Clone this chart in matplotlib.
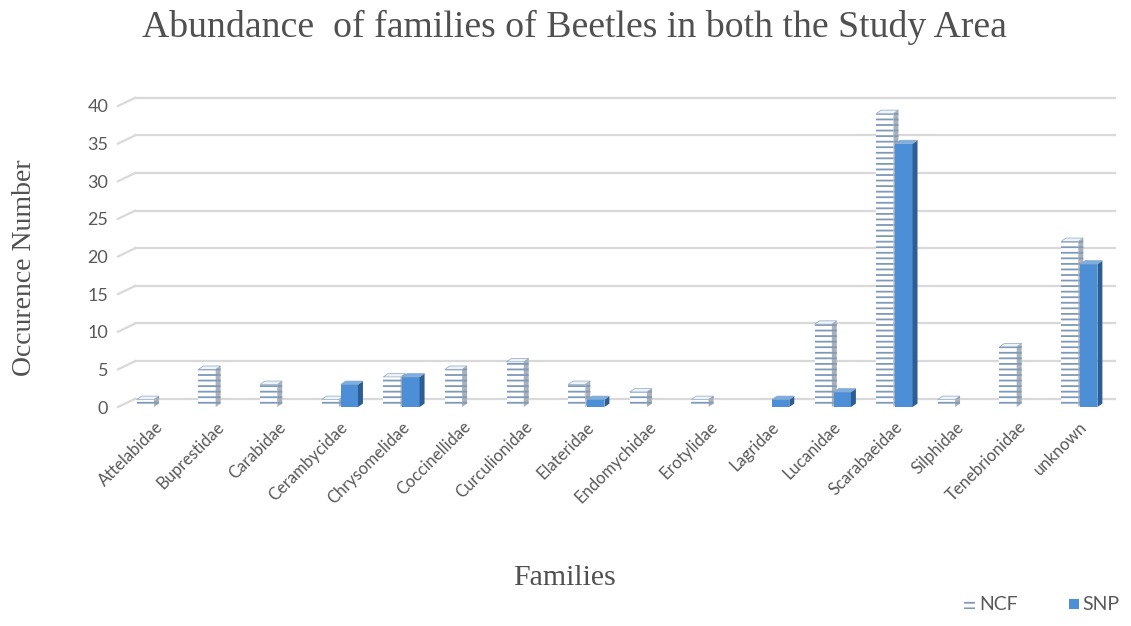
import numpy as np
import matplotlib
matplotlib.use('Agg')
import matplotlib.pyplot as plt
from matplotlib.patches import Polygon, Rectangle

# occurrence counts per beetle family at the two sites
families = ['Attelabidae', 'Buprestidae', 'Carabidae', 'Cerambycidae',
            'Chrysomelidae', 'Coccinellidae', 'Curculionidae', 'Elateridae',
            'Endomychidae', 'Erotylidae', 'Lagridae', 'Lucanidae',
            'Scarabaeidae', 'Silphidae', 'Tenebrionidae', 'unknown']
ncf = [1, 5, 3, 1, 4, 5, 6, 3, 2, 1, 0, 11, 39, 1, 8, 22]
snp = [0, 0, 0, 3, 4, 0, 0, 1, 0, 0, 1, 2, 35, 0, 0, 19]
yticks = [0, 5, 10, 15, 20, 25, 30, 35, 40]

W, H = 1131, 626
fig = plt.figure(figsize=(W / 100, H / 100), dpi=100)

# plot area in pixels: front floor at y=407, 7.525 px per unit
ppu = 7.525
y0, y1 = -1.0, 42.0
left_px, right_px = 118, 1115
bot_px = 407 + (-y0) * ppu
top_px = 407 - y1 * ppu
ax = fig.add_axes([left_px / W, 1 - bot_px / H,
                   (right_px - left_px) / W, (bot_px - top_px) / H])
ax.set_ylim(y0, y1)
ax.set_xlim(-0.60, 15.58)
for s in ax.spines.values():
    s.set_visible(False)

# back wall gridlines with a slanted floor stub on the left
back_dy = 1.1
for v in yticks:
    ax.plot([-0.32, 15.58], [v + back_dy, v + back_dy], color='#d9d9d9',
            lw=1.6, zorder=0, clip_on=False)
    ax.plot([-0.60, -0.32], [v, v + back_dy], color='#d9d9d9',
            lw=1.6, zorder=0, clip_on=False)

x = np.arange(len(families))
w = 0.28
dx, dy = 0.08, 0.45

ncf_face, ncf_side, ncf_top, ncf_hatch = 'white', '#a9b1ba', '#eef3f8', '#7f99b8'
snp_face, snp_side, snp_top = '#4d8fd6', '#2c5d94', '#7aafe6'


def bar3d(xl, h, front, side, top, hatch, hcolor, z):
    if h <= 0:
        return
    ax.bar(xl, h, w, align='edge', facecolor=front, edgecolor=hcolor,
           hatch=hatch, linewidth=0, zorder=z)
    ax.add_patch(Polygon([(xl + w, 0), (xl + w + dx, dy), (xl + w + dx, h + dy),
                          (xl + w, h)], closed=True, facecolor=side,
                         edgecolor=hcolor, hatch=hatch, linewidth=0, zorder=z))
    ax.add_patch(Polygon([(xl, h), (xl + dx, h + dy), (xl + w + dx, h + dy),
                          (xl + w, h)], closed=True, facecolor=top,
                         edgecolor='#8ea6c2', linewidth=0.5, zorder=z))


plt.rcParams['hatch.linewidth'] = 1.3
for i in range(len(families)):
    bar3d(x[i] - 0.155 - w / 2, ncf[i], ncf_face, ncf_side, ncf_top,
          '---', ncf_hatch, 2 + i)
    bar3d(x[i] + 0.155 - w / 2, snp[i], snp_face, snp_side, snp_top,
          None, snp_face, 2.5 + i)

sans = 'Lato'
ax.set_yticks(yticks)
ax.set_yticklabels([str(v) for v in yticks], fontsize=13, color='#595959',
                   family=sans)
ax.set_xticks(x)
ax.set_xticklabels(families, rotation=45, ha='right', rotation_mode='anchor',
                   fontsize=12, color='#595959', family=sans)
ax.tick_params(axis='both', length=0)
ax.tick_params(axis='y', pad=7)
ax.tick_params(axis='x', pad=3)

serif = 'Liberation Serif'
fig.text(574 / W, 1 - 27 / H,
         'Abundance  of families of Beetles in both the Study Area',
         ha='center', va='center', fontsize=27.2, family=serif, color='#505050')
fig.text(25 / W, 1 - 268 / H, 'Occurence Number', rotation=90, ha='center',
         va='center', fontsize=20, family=serif, color='#505050')
fig.text(565 / W, 1 - 578 / H, 'Families', ha='center', va='center',
         fontsize=21.5, family=serif, color='#505050')

# legend keys and labels along the bottom right
ly = 1 - 604 / H
fig.add_artist(Rectangle((964 / W, ly - 5 / H), 11 / W, 10 / H,
                         facecolor=ncf_face, edgecolor=ncf_hatch, hatch='---',
                         linewidth=0, transform=fig.transFigure))
fig.add_artist(Rectangle((1069 / W, ly - 5 / H), 10 / W, 10 / H,
                         facecolor=snp_face, edgecolor=snp_face,
                         linewidth=0, transform=fig.transFigure))
fig.text(979 / W, ly, 'NCF', ha='left', va='center', fontsize=14,
         family=sans, color='#595959')
fig.text(1082 / W, ly, 'SNP', ha='left', va='center', fontsize=14,
         family=sans, color='#595959')

fig.savefig('out.png', dpi=100, facecolor='white')
